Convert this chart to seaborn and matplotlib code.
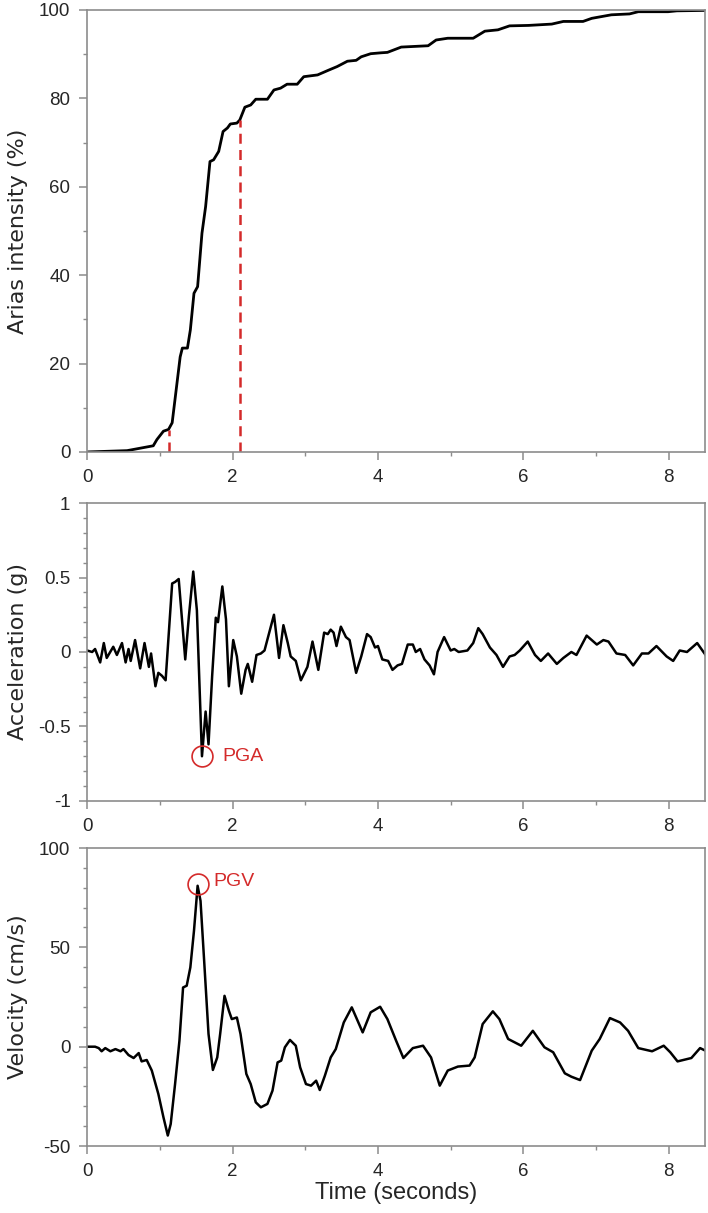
import numpy as np
import pandas as pd
import matplotlib
matplotlib.use("Agg")
import matplotlib.pyplot as plt
from matplotlib.ticker import MultipleLocator
import seaborn as sns

# Arias intensity (%) vs time (s)
arias_t = [0, 0.55, 0.91, 0.96, 1.05, 1.12, 1.17, 1.21, 1.28, 1.31, 1.38, 1.42, 1.47, 1.52,
           1.58, 1.63, 1.69, 1.74, 1.81, 1.87, 1.93, 1.97, 2.06, 2.10, 2.17, 2.25, 2.32, 2.48,
           2.57, 2.66, 2.75, 2.89, 2.98, 3.17, 3.31, 3.44, 3.58, 3.70, 3.77, 3.90, 4.04, 4.13,
           4.32, 4.69, 4.80, 4.96, 5.31, 5.47, 5.65, 5.81, 6.07, 6.39, 6.55, 6.82, 6.94, 7.21,
           7.46, 7.58, 7.99, 8.11, 8.52]
arias_v = [0, 0.3, 1.4, 2.8, 4.7, 5.1, 6.6, 12, 21.5, 23.5, 23.5, 27.6, 35.9, 37.4,
           49.5, 55.5, 65.7, 66.1, 68, 72.5, 73.3, 74.2, 74.4, 75.1, 78, 78.5, 79.8, 79.8,
           81.9, 82.3, 83.2, 83.2, 84.9, 85.3, 86.3, 87.2, 88.4, 88.6, 89.4, 90.1, 90.3, 90.4,
           91.6, 91.9, 93.2, 93.6, 93.6, 95.2, 95.5, 96.4, 96.5, 96.8, 97.4, 97.4, 98.1, 98.9,
           99.1, 99.6, 99.6, 99.8, 99.9]

# Acceleration (g) vs time (s)
acc_t = [0, 0.07, 0.11, 0.18, 0.23, 0.27, 0.36, 0.41, 0.48, 0.53, 0.57, 0.60, 0.66, 0.73,
         0.79, 0.85, 0.88, 0.94, 0.98, 1.03, 1.08, 1.12, 1.17, 1.21, 1.26, 1.35, 1.40, 1.46,
         1.51, 1.58, 1.63, 1.67, 1.72, 1.77, 1.80, 1.86, 1.91, 1.95, 2.01, 2.06, 2.12, 2.18,
         2.21, 2.27, 2.33, 2.39, 2.44, 2.57, 2.64, 2.70, 2.76, 2.80, 2.87, 2.94, 3.03, 3.10,
         3.18, 3.26, 3.31, 3.35, 3.39, 3.43, 3.49, 3.56, 3.61, 3.70, 3.77, 3.85, 3.90, 3.96,
         4.00, 4.06, 4.14, 4.20, 4.27, 4.33, 4.41, 4.48, 4.52, 4.58, 4.64, 4.71, 4.77, 4.82,
         4.91, 5.00, 5.05, 5.11, 5.23, 5.31, 5.38, 5.44, 5.54, 5.63, 5.72, 5.81, 5.88, 5.95,
         6.06, 6.16, 6.24, 6.34, 6.46, 6.55, 6.66, 6.73, 6.87, 7.01, 7.10, 7.17, 7.28, 7.40,
         7.51, 7.63, 7.72, 7.83, 7.97, 8.06, 8.15, 8.25, 8.39, 8.52]
acc_v = [0.01, 0.0, 0.02, -0.07, 0.06, -0.04, 0.035, -0.02, 0.06, -0.07, 0.02, -0.06, 0.08, -0.11,
         0.06, -0.10, -0.01, -0.23, -0.14, -0.16, -0.19, 0.10, 0.46, 0.47, 0.49, -0.05, 0.24, 0.54,
         0.28, -0.70, -0.40, -0.62, -0.16, 0.23, 0.20, 0.44, 0.22, -0.23, 0.08, -0.03, -0.28, -0.12,
         -0.08, -0.20, -0.02, -0.01, 0.01, 0.25, -0.04, 0.18, 0.06, -0.03, -0.06, -0.19, -0.10, 0.07,
         -0.12, 0.13, 0.12, 0.15, 0.13, 0.04, 0.17, 0.10, 0.08, -0.14, -0.03, 0.12, 0.10, 0.03,
         0.04, -0.05, -0.06, -0.12, -0.09, -0.08, 0.05, 0.05, 0.0, 0.02, -0.05, -0.09, -0.15, 0.0,
         0.10, 0.01, 0.02, 0.0, 0.01, 0.06, 0.16, 0.12, 0.03, -0.02, -0.10, -0.03, -0.02, 0.01,
         0.07, -0.02, -0.06, -0.01, -0.08, -0.04, 0.0, -0.02, 0.11, 0.05, 0.08, 0.07, -0.01, -0.02,
         -0.09, -0.01, -0.01, 0.04, -0.03, -0.06, 0.01, 0.0, 0.06, -0.03]

# Velocity (cm/s) vs time (s)
vel_t = [0, 0.11, 0.16, 0.20, 0.25, 0.32, 0.39, 0.46, 0.50, 0.57, 0.64, 0.71, 0.75, 0.82,
         0.89, 0.98, 1.05, 1.11, 1.15, 1.21, 1.27, 1.32, 1.37, 1.42, 1.47, 1.52, 1.56, 1.61,
         1.67, 1.73, 1.79, 1.83, 1.89, 1.95, 1.99, 2.06, 2.11, 2.19, 2.25, 2.32, 2.39, 2.48,
         2.55, 2.62, 2.67, 2.72, 2.79, 2.87, 2.93, 3.01, 3.08, 3.15, 3.20, 3.27, 3.35, 3.42,
         3.53, 3.64, 3.72, 3.79, 3.90, 4.03, 4.13, 4.25, 4.35, 4.48, 4.62, 4.73, 4.85, 4.96,
         5.10, 5.26, 5.33, 5.44, 5.58, 5.67, 5.79, 5.97, 6.13, 6.29, 6.41, 6.57, 6.66, 6.78,
         6.94, 7.05, 7.19, 7.33, 7.44, 7.58, 7.77, 7.93, 8.02, 8.12, 8.31, 8.43, 8.52]
vel_v = [0, 0, -0.7, -2.3, -0.7, -2.3, -1.2, -2.3, -1.2, -4.2, -5.7, -3.2, -7.4, -6.7,
         -12, -23.8, -35.5, -44.7, -38.9, -18.8, 3.0, 29.8, 30.7, 39.9, 58.3, 81, 73.4, 43.2,
         6.4, -11.7, -5.4, 6.4, 25.6, 18.1, 13.9, 14.7, 6.4, -13.7, -18.8, -28, -30.5, -28.8,
         -22.1, -7.9, -7.0, -0.3, 3.4, 0.5, -10.4, -18.8, -19.6, -17.1, -21.8, -14.6, -5.4, -1.2,
         12.2, 19.8, 13.1, 7.2, 17.3, 20.1, 13.9, 3.0, -5.7, -0.7, 0.5, -5.4, -19.6, -12,
         -10, -9.5, -5.4, 11.4, 17.8, 13.9, 3.9, 0.5, 8.0, -0.3, -2.8, -13.4, -15.1, -16.8,
         -2.0, 3.9, 14.4, 12.2, 8.0, -0.7, -2.3, 0.5, -2.8, -7.4, -5.7, -0.7, -2.3]

# Arias intensity bounds (5% and 75%)
bound_t = [1.12, 2.10]
bound_v = [5.0, 75.0]
pga = (1.58, -0.70)
pgv = (1.52, 82.0)

sns.set_style("ticks")
plt.rcParams["font.family"] = ["Liberation Sans", "DejaVu Sans"]
plt.rcParams["axes.unicode_minus"] = False

RED = "#d42a2a"
GRAY = "#8c8c8c"

fig = plt.figure(figsize=(7.08, 12.13), dpi=100)
ax1 = fig.add_axes([0.123, 0.6274, 0.873, 0.3644])
ax2 = fig.add_axes([0.123, 0.3397, 0.873, 0.2456])
ax3 = fig.add_axes([0.123, 0.0552, 0.873, 0.2457])

sns.lineplot(x=arias_t, y=arias_v, ax=ax1, color="black", lw=2, sort=False, estimator=None)
for t, v in zip(bound_t, bound_v):
    ax1.plot([t, t], [0, v], color=RED, lw=1.8, ls=(0, (4, 2.5)))
sns.lineplot(x=acc_t, y=acc_v, ax=ax2, color="black", lw=1.8, sort=False, estimator=None)
sns.lineplot(x=vel_t, y=vel_v, ax=ax3, color="black", lw=1.8, sort=False, estimator=None)

ax2.plot(*pga, "o", ms=15, mfc="none", mec=RED, mew=1.2)
ax2.text(pga[0] + 0.28, pga[1], "PGA", color=RED, fontsize=14, va="center")
ax3.plot(*pgv, "o", ms=15, mfc="none", mec=RED, mew=1.2)
ax3.text(pgv[0] + 0.22, pgv[1] + 1, "PGV", color=RED, fontsize=14, va="center")

ylab_font = dict(fontsize=16, family=["DejaVu Sans"])

ax1.set_ylim(0, 100)
ax1.yaxis.set_major_locator(MultipleLocator(20))
ax1.yaxis.set_minor_locator(MultipleLocator(10))
ax1.set_ylabel("Arias intensity (%)", **ylab_font)

ax2.set_ylim(-1, 1)
ax2.set_yticks([-1, -0.5, 0, 0.5, 1])
ax2.set_yticklabels(["-1", "-0.5", "0", "0.5", "1"])
ax2.yaxis.set_minor_locator(MultipleLocator(0.1))
ax2.set_ylabel("Acceleration (g)", **ylab_font)

ax3.set_ylim(-50, 100)
ax3.yaxis.set_major_locator(MultipleLocator(50))
ax3.yaxis.set_minor_locator(MultipleLocator(10))
ax3.set_ylabel("Velocity (cm/s)", **ylab_font)
ax3.set_xlabel("Time (seconds)", fontsize=17, labelpad=2)

for ax in (ax1, ax2, ax3):
    ax.set_xlim(0, 8.5)
    ax.xaxis.set_major_locator(MultipleLocator(2))
    ax.xaxis.set_minor_locator(MultipleLocator(1))
    ax.yaxis.set_label_coords(-0.096, 0.5)
    for s in ax.spines.values():
        s.set_visible(True)
        s.set_color(GRAY)
        s.set_linewidth(1.2)
    ax.tick_params(which="major", direction="out", length=6, width=1.1, color=GRAY,
                   labelsize=13.5, pad=6, top=False, right=False)
    ax.tick_params(which="minor", direction="out", length=3, width=1.0, color=GRAY,
                   top=False, right=False)
    if ax is not ax3:
        ax.set_xlabel("")

fig.savefig("out.png", dpi=100)
